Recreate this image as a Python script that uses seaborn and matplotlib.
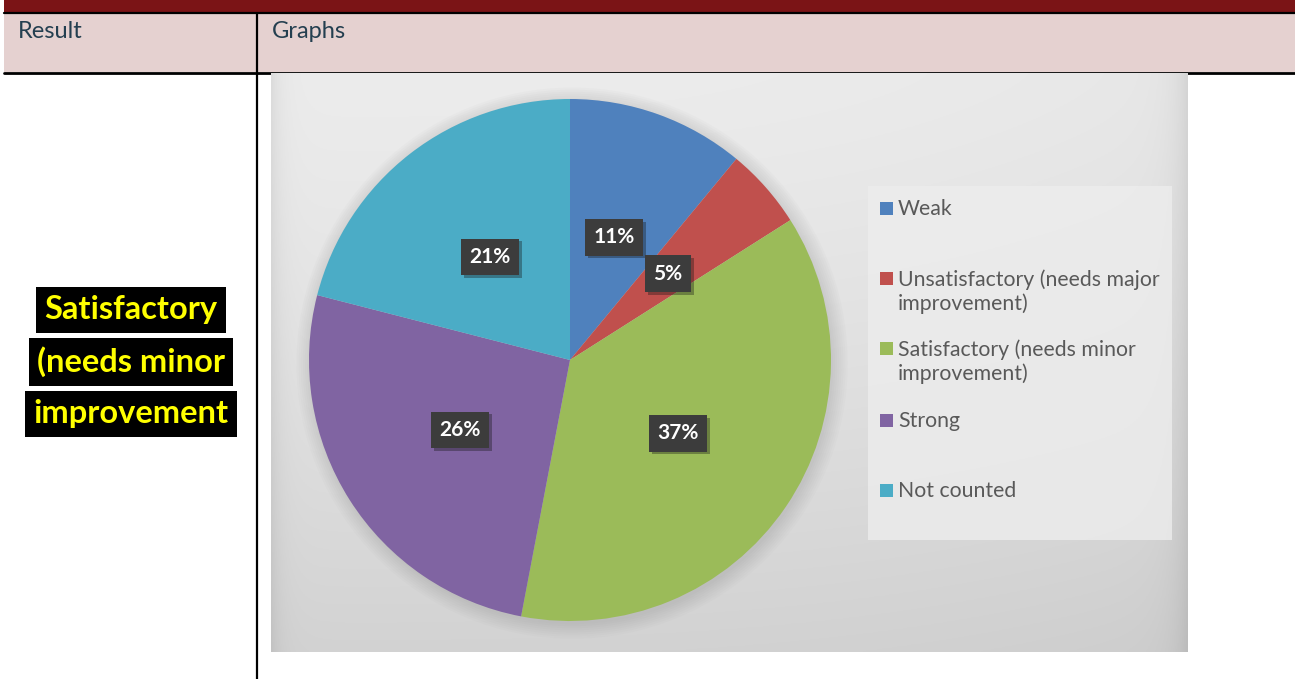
import numpy as np
import matplotlib
matplotlib.use("Agg")
import matplotlib.pyplot as plt
import seaborn as sns
from matplotlib.patches import Rectangle, Circle
import matplotlib.patheffects as pe

# ---- data ----
categories = ["Weak", "Unsatisfactory (needs major\nimprovement)",
              "Satisfactory (needs minor\nimprovement)", "Strong", "Not counted"]
values = [11, 5, 37, 26, 21]
colors = ["#4F81BD", "#C0504D", "#9BBB59", "#8064A2", "#4BACC6"]
header_labels = ["Result", "Graphs"]
result_lines = ["Satisfactory", "(needs minor", "improvement"]

sns.set_theme(style="white")
plt.rcParams["font.family"] = ["Lato", "DejaVu Sans"]

W, H = 1295, 679
fig = plt.figure(figsize=(W / 100, H / 100), dpi=100)
fig.patch.set_facecolor("white")

def fx(x):
    return x / W

def fy(y):
    return 1 - y / H

def box(x0, y0, x1, y1, **kw):
    return fig.add_axes([fx(x0), fy(y1), (x1 - x0) / W, (y1 - y0) / H], **kw)

# ---- page (table) decoration ----
page = box(0, 0, W, H)
page.set_xlim(0, W)
page.set_ylim(H, 0)
page.axis("off")
page.add_patch(Rectangle((4, 0), W - 4, 12, color="#7B1416", lw=0))
page.add_patch(Rectangle((4, 14), W - 4, 58, color="#E5D1D0", lw=0))
page.plot([4, W], [13, 13], color="black", lw=1.6)
page.plot([4, W], [72.5, 72.5], color="black", lw=2)
page.plot([257, 257], [14, H], color="black", lw=1.6)
page.text(18, 32, header_labels[0], fontsize=17, color="#243F50", va="center", ha="left")
page.text(272, 32, header_labels[1], fontsize=17, color="#243F50", va="center", ha="left")
for yy, line in zip([310, 362, 414], result_lines):
    page.text(131, yy, line, fontsize=23.5, fontweight="bold", color="#FFFF00",
              ha="center", va="center",
              bbox=dict(facecolor="black", edgecolor="none", pad=6))

# ---- chart background ----
bx0, by0, bx1, by1 = 271, 73, 1188, 652
bg = box(bx0, by0, bx1, by1)
gx, gy = np.meshgrid(np.linspace(bx0, bx1, 460), np.linspace(by0, by1, 300))
tx = (gx - bx0) / (bx1 - bx0)
ty = (gy - by0) / (by1 - by0)
shade = 0.925 - 0.10 * ty ** 1.3 - 0.02 * tx ** 3
shade -= 0.06 * np.exp(-(gx - bx0) / 10) + 0.07 * np.exp(-(bx1 - gx) / 14)
shade = np.clip(shade, 0.74, 0.95)
bg.imshow(np.dstack([shade] * 3), extent=(bx0, bx1, by1, by0), aspect="auto")
bg.axis("off")

# ---- pie ----
cx, cy, rad = 570, 360, 261
m = 1.12
ax = box(cx - rad * m, cy - rad * m, cx + rad * m, cy + rad * m)
ax.patch.set_alpha(0)
for k in range(8):
    ax.add_patch(Circle((0.008, -0.012), 1.0 + 0.008 * k, color="#808080",
                        alpha=0.03, lw=0, zorder=0))
wedges, texts, autotexts = ax.pie(
    values, colors=colors, startangle=90, counterclock=False,
    autopct="%d%%", pctdistance=0.5, radius=1,
    wedgeprops=dict(linewidth=0, zorder=2),
    textprops=dict(color="white", fontsize=15, fontweight="bold", zorder=5))
ax.set_xlim(-m, m)
ax.set_ylim(-m, m)
for t in autotexts:
    t.set_bbox(dict(facecolor="#3C3C3C", edgecolor="none", pad=6))
    t.get_bbox_patch().set_path_effects(
        [pe.SimplePatchShadow(offset=(2, -2), alpha=0.35), pe.Normal()])

# ---- legend ----
lx0, ly0, lx1, ly1 = 868, 186, 1172, 540
lg = box(lx0, ly0, lx1, ly1)
lg.set_xlim(lx0, lx1)
lg.set_ylim(ly1, ly0)
lg.axis("off")
lg.add_patch(Rectangle((lx0, ly0), lx1 - lx0, ly1 - ly0, color="#EDEDED", lw=0, alpha=0.8))
entry_y = [208, 278, 348, 420, 490]
for yy, cat, col in zip(entry_y, categories, colors):
    lg.add_patch(Rectangle((880, yy - 6.5), 13, 13, color=col, lw=0))
    lg.text(898, yy - 9, cat, fontsize=15.3, color="#595959", va="top", ha="left",
            linespacing=1.25)

fig.savefig("out.png", dpi=100)
